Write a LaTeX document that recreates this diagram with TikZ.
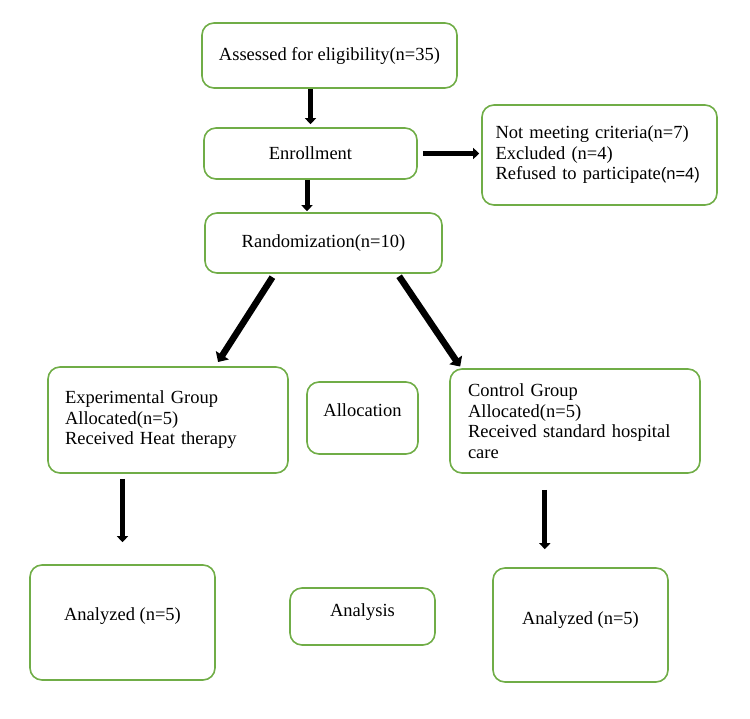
\documentclass[tikz,border=0pt]{standalone}
\usepackage{fontspec}
\setmainfont{Liberation Serif}
\setsansfont{Liberation Sans}
\usetikzlibrary{arrows.meta,calc}
\definecolor{boxgreen}{RGB}{112,173,71}
\hyphenpenalty=10000
\exhyphenpenalty=10000
\begin{document}
\begin{tikzpicture}[x=1pt,y=-1pt,
  box/.style={draw=boxgreen, line width=1.6pt, rounded corners=12pt, inner sep=0pt,
    font=\fontsize{18.5}{20.5}\selectfont, align=center},
  lbox/.style={box, align=left},
  arr/.style={draw=black, line width=5pt, -{Triangle[width=11pt,length=6pt]}},
  diagarr/.style={draw=black, line width=6.5pt, -{Triangle[width=15pt,length=8pt]}}]
\useasboundingbox (0,0) rectangle (750,718);
% boxes
\node[box, minimum width=255pt, minimum height=65pt] (assess) at (329.5,55.5) {Assessed for eligibility(n=35)};
\node[box, minimum width=213pt, minimum height=51pt] (enroll) at (310.5,153.5) {Enrollment};
\node[lbox, minimum width=235pt, minimum height=100pt, text width=208pt] (excl) at (599.5,155)
  {Not meeting criteria(n=7)\\Excluded (n=4)\\Refused to participate{\sffamily\fontsize{16.5}{20.5}\selectfont(n=4)}};
\node[box, minimum width=237pt, minimum height=60pt] (rand) at (323.5,243) {Randomization(n=10)};
\node[lbox, minimum width=240pt, minimum height=106pt, text width=206pt] (exp) at (168,420)
  {Experimental Group\\Allocated(n=5)\\Received Heat therapy};
\node[box, minimum width=111pt, minimum height=72pt, text depth=16pt] (alloc) at (362.5,418) {Allocation};
\node[lbox, minimum width=250pt, minimum height=104pt, text width=214pt] (ctrl) at (575,421)
  {Control Group\\Allocated(n=5)\\Received standard hospital\\care};
\node[box, minimum width=185pt, minimum height=115pt, text depth=17pt] (an1) at (122.5,622.5) {Analyzed (n=5)};
\node[box, minimum width=145pt, minimum height=57pt, text depth=13pt] (analysis) at (362.5,616.5) {Analysis};
\node[box, minimum width=175pt, minimum height=114pt, text depth=14pt] (an2) at (580.5,625) {Analyzed (n=5)};
% arrows
\coordinate (r1) at ($(rand.south west)!0.295!(rand.south east)$);
\coordinate (r2) at ($(rand.south west)!0.81!(rand.south east)$);
\coordinate (e1) at ($(exp.north west)!0.696!(exp.north east)$);
\coordinate (c1) at ($(ctrl.north west)!0.048!(ctrl.north east)$);
\coordinate (c2) at ($(ctrl.south west)!0.38!(ctrl.south east)$);
\coordinate (en) at ($(enroll.south)+(-3.5,0)$);
\draw[arr, shorten >=3pt] (enroll.north |- assess.south) -- (enroll.north);
\draw[arr, shorten >=1pt] (en) -- (en |- rand.north);
\draw[arr, shorten <=5pt, shorten >=2pt] (enroll.east) -- (enroll.east -| excl.west);
\draw[diagarr, shorten <=4pt, shorten >=5pt] (r1) -- (e1);
\draw[diagarr, shorten <=3pt, shorten >=2pt] (r2) -- (c1);
\draw[arr, shorten <=5pt, shorten >=22pt] (an1.north |- exp.south) -- (an1.north);
\draw[arr, shorten <=16pt, shorten >=18pt] (c2) -- (c2 |- an2.north);
\end{tikzpicture}
\end{document}
